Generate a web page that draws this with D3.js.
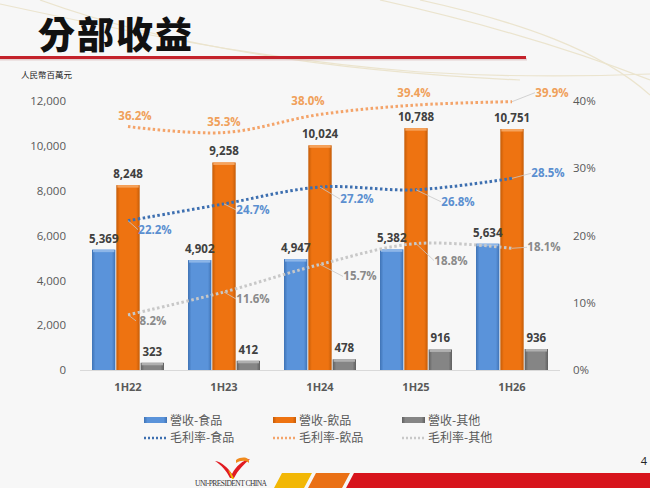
<!DOCTYPE html>
<html>
<head>
<meta charset="utf-8">
<script src="https://cdn.jsdelivr.net/npm/d3@7"></script>
<style>
  html, body { margin: 0; padding: 0; background: #f7f7f7; }
  svg { display: block; }
</style>
</head>
<body>
<svg id="chart" width="650" height="488"></svg>
<script>
// ---- data ----
const categories = ["1H22", "1H23", "1H24", "1H25", "1H26"];
const revenueFood = [5369, 4902, 4947, 5382, 5634];
const revenueBeverage = [8248, 9258, 10024, 10788, 10751];
const revenueOther = [323, 412, 478, 916, 936];
const marginFood = [22.2, 24.7, 27.2, 26.8, 28.5];
const marginBeverage = [36.2, 35.3, 38.0, 39.4, 39.9];
const marginOther = [8.2, 11.6, 15.7, 18.8, 18.1];
const leftTicks = [0, 2000, 4000, 6000, 8000, 10000, 12000];
const rightTicks = [0, 10, 20, 30, 40];
const legendBars = ["營收-食品", "營收-飲品", "營收-其他"];
const legendLines = ["毛利率-食品", "毛利率-飲品", "毛利率-其他"];
const titleText = "分部收益";
const unitText = "人民幣百萬元";

// ---- layout (label offsets, not data) ----
const offFood = [[27, 9], [29, 6], [37, 12], [42, 12], [36, -5]];
const offBev = [[7, -11], [0, -11], [-12, -13], [-2, -12], [40, -9]];
const offOther = [[25, 6], [29, 7], [40, 12], [35, 17], [32, -1]];

const svg = d3.select("#chart");
const W = 650, H = 488;
svg.append("rect").attr("width", W).attr("height", H).attr("fill", "#f7f7f7");

// decorative faint curves
const deco = svg.append("g").attr("fill", "none").attr("stroke", "#e9e0c4").attr("stroke-width", 1.2).attr("opacity", 0.8);
deco.append("path").attr("d", "M0,4 C120,30 260,60 420,72 C520,78 600,76 650,74");
deco.append("path").attr("d", "M380,0 C470,20 560,45 650,80");
deco.append("path").attr("d", "M40,0 C150,40 300,70 520,80");
deco.append("path").attr("d", "M420,0 C520,22 600,50 650,95");

// title
svg.append("text").attr("x", 38).attr("y", 49)
  .attr("font-family", "'Noto Sans CJK TC', 'Noto Sans CJK SC', sans-serif")
  .attr("font-weight", 900).attr("font-size", 37).attr("fill", "#111")
  .attr("letter-spacing", 2).text(titleText);

// red rule
svg.append("rect").attr("x", 0).attr("y", 58).attr("width", 527).attr("height", 2.5).attr("fill", "#d8b8b8").attr("opacity", 0.6);
svg.append("rect").attr("x", 0).attr("y", 56).attr("width", 526).attr("height", 3).attr("fill", "#c4222b");

svg.append("text").attr("x", 21).attr("y", 78)
  .attr("font-family", "'Noto Sans CJK TC', serif").attr("font-size", 8.5).attr("fill", "#222")
  .text(unitText);

// scales
const x = d3.scaleBand().domain(categories).range([80, 560]).paddingInner(0.25).paddingOuter(0.125);
const series = ["food", "bev", "other"];
const xs = d3.scaleBand().domain(series).range([0, x.bandwidth()]).paddingInner(0.04);
const y = d3.scaleLinear().domain([0, 12000]).range([370, 101]);
const y2 = d3.scaleLinear().domain([0, 40]).range([370, 101]);

const numFont = "'Open Sans', 'Liberation Sans', sans-serif";
const cjkFont = "'Noto Sans CJK TC', 'Noto Sans CJK SC', sans-serif";

// gradients
const defs = svg.append("defs");
function grad(id, c1, c2) {
  const g = defs.append("linearGradient").attr("id", id).attr("x1", 0).attr("x2", 1).attr("y1", 0).attr("y2", 0);
  g.append("stop").attr("offset", "0%").attr("stop-color", c2);
  g.append("stop").attr("offset", "15%").attr("stop-color", c1);
  g.append("stop").attr("offset", "85%").attr("stop-color", c1);
  g.append("stop").attr("offset", "100%").attr("stop-color", c2);
}
grad("gFood", "#5a93da", "#3f73b5");
grad("gBev", "#ee7311", "#c45c08");
grad("gOther", "#858585", "#5f5f5f");
const colors = { food: "url(#gFood)", bev: "url(#gBev)", other: "url(#gOther)" };
const topColors = { food: "#8db6e8", bev: "#f5a35d", other: "#b0b0b0" };

// axes
const axL = d3.axisLeft(y).tickValues(leftTicks).tickSize(0).tickPadding(0).tickFormat(d3.format(","));
const gL = svg.append("g").attr("transform", "translate(66,0)").call(axL);
gL.select(".domain").remove();
gL.selectAll("text").attr("font-family", numFont).attr("font-size", 11.5).attr("fill", "#595959");

const axR = d3.axisRight(y2).tickValues(rightTicks).tickSize(0).tickPadding(0).tickFormat(d => d + "%");
const gR = svg.append("g").attr("transform", "translate(573,0)").call(axR);
gR.select(".domain").remove();
gR.selectAll("text").attr("font-family", numFont).attr("font-size", 11.5).attr("fill", "#595959");

// baseline
svg.append("line").attr("x1", 80).attr("x2", 560).attr("y1", 370.5).attr("y2", 370.5).attr("stroke", "#d9d9d9");

const axB = d3.axisBottom(x).tickSize(0).tickPadding(13);
const gB = svg.append("g").attr("transform", "translate(0,370)").call(axB);
gB.select(".domain").remove();
gB.selectAll("text").attr("font-family", numFont).attr("font-size", 11).attr("font-weight", 700).attr("fill", "#595959");

// bars
const barData = [];
categories.forEach((c, i) => {
  barData.push({ c, s: "food", v: revenueFood[i] });
  barData.push({ c, s: "bev", v: revenueBeverage[i] });
  barData.push({ c, s: "other", v: revenueOther[i] });
});
const bars = svg.append("g");
bars.selectAll("rect.bar").data(barData).join("rect").attr("class", "bar")
  .attr("x", d => x(d.c) + xs(d.s)).attr("width", xs.bandwidth())
  .attr("y", d => y(d.v)).attr("height", d => y(0) - y(d.v))
  .attr("fill", d => colors[d.s]);
bars.selectAll("rect.top").data(barData).join("rect").attr("class", "top")
  .attr("x", d => x(d.c) + xs(d.s) + 1).attr("width", xs.bandwidth() - 2)
  .attr("y", d => y(d.v)).attr("height", 2.5)
  .attr("fill", d => topColors[d.s]);
bars.selectAll("text").data(barData).join("text")
  .attr("x", d => x(d.c) + xs(d.s) + xs.bandwidth() / 2)
  .attr("y", d => y(d.v) - 7)
  .attr("text-anchor", "middle")
  .attr("font-family", numFont).attr("font-size", 11.5).attr("font-weight", 700).attr("fill", "#404040")
  .text(d => d3.format(",")(d.v));

// lines
const lineGen = d3.line().x((d, i) => x(categories[i]) + x.bandwidth() / 2).y(d => y2(d)).curve(d3.curveCatmullRom.alpha(0.5));
const lineSpecs = [
  { data: marginBeverage, stroke: "#f4a46a", label: "#f0a05a", off: offBev },
  { data: marginFood, stroke: "#3d6fb0", label: "#5b8fd0", off: offFood },
  { data: marginOther, stroke: "#c8c8c8", label: "#8a8a8a", off: offOther },
];
lineSpecs.forEach(spec => {
  svg.append("path").attr("d", lineGen(spec.data)).attr("fill", "none")
    .attr("stroke", spec.stroke).attr("stroke-width", 3).attr("stroke-dasharray", "2.5,2.5");
});
lineSpecs.forEach(spec => {
  const g = svg.append("g");
  spec.data.forEach((v, i) => {
    const px = x(categories[i]) + x.bandwidth() / 2, py = y2(v);
    const [dx, dy] = spec.off[i];
    const lx = px + dx, ly = py + dy;
    const dist = Math.hypot(dx, dy);
    if (dist > 20) {
      const ex = lx - Math.sign(dx) * 17;
      g.append("line").attr("x1", px).attr("y1", py).attr("x2", dx > 0 ? Math.max(px, ex) : Math.min(px, ex)).attr("y2", ly)
        .attr("stroke", "#c8c8c8").attr("stroke-width", 0.8);
    }
    g.append("text").attr("x", lx).attr("y", ly).attr("dy", "0.35em").attr("text-anchor", "middle")
      .attr("font-family", numFont).attr("font-size", 11.5).attr("font-weight", 700).attr("fill", spec.label)
      .text(v.toFixed(1) + "%");
  });
});

// legend
const legBarColors = ["url(#gFood)", "url(#gBev)", "url(#gOther)"];
const legLineColors = ["#3d6fb0", "#f4a46a", "#c8c8c8"];
const legX = [144, 273, 402];
legendBars.forEach((t, i) => {
  svg.append("rect").attr("x", legX[i]).attr("y", 417).attr("width", 23).attr("height", 6)
    .attr("fill", legBarColors[i]);
  svg.append("text").attr("x", legX[i] + 26).attr("y", 421).attr("dy", "0.35em")
    .attr("font-family", cjkFont).attr("font-size", 12).attr("fill", "#595959").text(t);
});
legendLines.forEach((t, i) => {
  svg.append("line").attr("x1", legX[i]).attr("x2", legX[i] + 23).attr("y1", 438).attr("y2", 438)
    .attr("stroke", legLineColors[i]).attr("stroke-width", 2.5).attr("stroke-dasharray", "2,2");
  svg.append("text").attr("x", legX[i] + 26).attr("y", 438).attr("dy", "0.35em")
    .attr("font-family", cjkFont).attr("font-size", 12).attr("fill", "#595959").text(t);
});

// footer
svg.append("text").attr("x", 644).attr("y", 465).attr("text-anchor", "middle")
  .attr("font-family", numFont).attr("font-size", 11).attr("fill", "#222").text("4");
const foot = svg.append("g");
foot.append("path").attr("d", "M282,473 L312,473 L304,488 L274,488 Z").attr("fill", "#f2b705");
foot.append("path").attr("d", "M316,473 L350,473 L342,488 L308,488 Z").attr("fill", "#ea7015");
foot.append("path").attr("d", "M354,473 L650,473 L650,488 L346,488 Z").attr("fill", "#d7141c");
// logo
const logo = svg.append("g");
logo.append("path").attr("d", "M215,461 C222,462 228,468 232,474 C236,466 243,460 250,459 C244,464 238,470 234,478 L230,478 C226,470 221,465 215,461 Z").attr("fill", "#e11b22");
logo.append("path").attr("d", "M236,460 C242,456 250,457 249,463 C246,460 241,460 236,463 Z").attr("fill", "#f08a1c");
logo.append("path").attr("d", "M228,470 C230,474 231,477 232,479 L234,479 C233,476 231,472 228,470 Z").attr("fill", "#f2b705");
svg.append("text").attr("x", 231).attr("y", 486).attr("text-anchor", "middle")
  .attr("font-family", "'Liberation Serif', serif").attr("font-size", 7.5).attr("fill", "#333")
  .attr("textLength", 72).text("UNI-PRESIDENT CHINA");
</script>
</body>
</html>
